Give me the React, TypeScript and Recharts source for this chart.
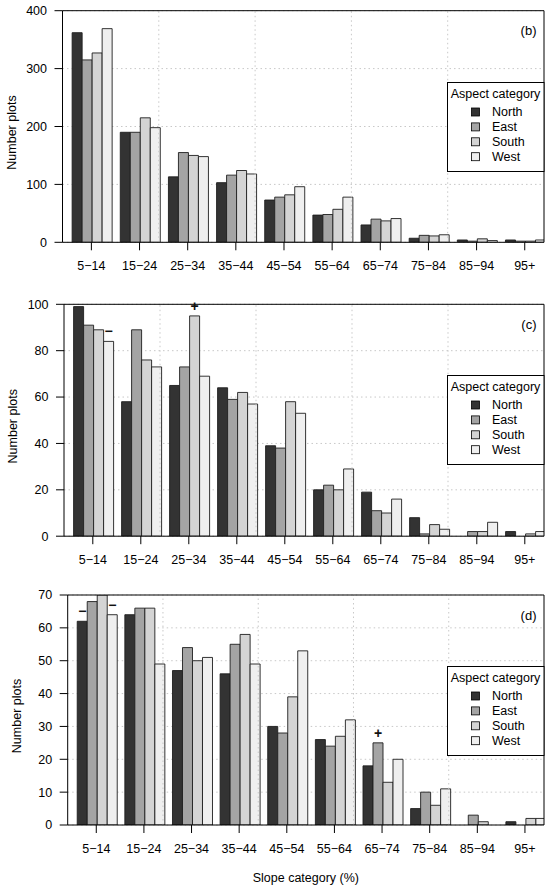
import React from 'react';
import {
  BarChart,
  Bar,
  XAxis,
  YAxis,
  CartesianGrid,
  ReferenceLine,
  Legend,
  LabelList,
  Label,
} from 'recharts';

// ---------- data ----------
const categories = [
  '5\u221214',
  '15\u221224',
  '25\u221234',
  '35\u221244',
  '45\u221254',
  '55\u221264',
  '65\u221274',
  '75\u221284',
  '85\u221294',
  '95+',
];
const aspects = ['North', 'East', 'South', 'West'];
const aspectColors = ['#333333', '#a4a4a4', '#d4d4d4', '#efefef'];

// panel (b)
const northB = [362, 190, 113, 103, 73, 47, 30, 7, 4, 4];
const eastB = [315, 190, 155, 116, 78, 48, 40, 12, 2, 2];
const southB = [327, 215, 150, 124, 82, 57, 37, 11, 6, 2];
const westB = [369, 198, 148, 118, 96, 78, 41, 13, 3, 4];

// panel (c)
const northC = [99, 58, 65, 64, 39, 20, 19, 8, 0, 2];
const eastC = [91, 89, 73, 59, 38, 22, 11, 1, 2, 0];
const southC = [89, 76, 95, 62, 58, 20, 10, 5, 2, 1];
const westC = [84, 73, 69, 57, 53, 29, 16, 3, 6, 2];

// panel (d)
const northD = [62, 64, 47, 46, 30, 26, 18, 5, 0, 1];
const eastD = [68, 66, 54, 55, 28, 24, 25, 10, 3, 0];
const southD = [70, 66, 50, 58, 39, 27, 13, 6, 1, 2];
const westD = [64, 49, 51, 49, 53, 32, 20, 11, 0, 2];

// significance marks
const M = '\u2212';
const marksCSouth = ['', '', '+', '', '', '', '', '', '', ''];
const marksCWest = [M, '', '', '', '', '', '', '', '', ''];
const marksDNorth = [M, '', '', '', '', '', '', '', '', ''];
const marksDEast = ['', '', '', '', '', '', '+', '', '', ''];
const marksDWest = [M, '', '', '', '', '', '', '', '', ''];

// tick labels
const yTicksB = [0, 100, 200, 300, 400];
const yTicksC = [0, 20, 40, 60, 80, 100];
const yTicksD = [0, 10, 20, 30, 40, 50, 60, 70];

// barplot layout (R barplot, space = c(0, 1)): each group 4 units + 1 unit gap
const GROUP = 5;
const slots = categories.map((_, i) => i * GROUP + 3);
const slotMax = categories.length * GROUP;
const gridSlots = [10, 20, 30, 40];

const FONT = '"Liberation Sans", Arial, Helvetica, sans-serif';

type Marks = { [k: string]: string[] | undefined };

function buildRows(n: number[], e: number[], s: number[], w: number[], marks: Marks) {
  return categories.map((c, i) => ({
    slot: slots[i],
    label: c,
    North: n[i],
    East: e[i],
    South: s[i],
    West: w[i],
    markNorth: marks.North ? marks.North[i] : '',
    markEast: marks.East ? marks.East[i] : '',
    markSouth: marks.South ? marks.South[i] : '',
    markWest: marks.West ? marks.West[i] : '',
  }));
}

const rowsB = buildRows(northB, eastB, southB, westB, {});
const rowsC = buildRows(northC, eastC, southC, westC, { South: marksCSouth, West: marksCWest });
const rowsD = buildRows(northD, eastD, southD, westD, {
  North: marksDNorth,
  East: marksDEast,
  West: marksDWest,
});

// ---------- helpers ----------
const MarkLabel = (props: any) => {
  const { x, y, width, value } = props;
  if (!value) return null;
  return (
    <text
      x={Number(x) + Number(width) / 2}
      y={Number(y) - 10}
      textAnchor="middle"
      dominantBaseline="central"
      fontSize={14}
      fontWeight="bold"
      fontFamily={FONT}
      fill="#111"
    >
      {value}
    </text>
  );
};

const YTitle = (props: any) => {
  const vb = props.viewBox || {};
  const cx = vb.x + vb.width - 51;
  const cy = vb.y + vb.height / 2 + 6;
  return (
    <text
      x={cx}
      y={cy}
      transform={`rotate(-90 ${cx} ${cy})`}
      textAnchor="middle"
      dominantBaseline="central"
      fontSize={12.5}
      fontFamily={FONT}
      fill="#000"
    >
      Number plots
    </text>
  );
};

const XTitle = (props: any) => {
  const vb = props.viewBox || {};
  const cx = vb.x + vb.width / 2;
  const cy = vb.y + 53.3;
  return (
    <text
      x={cx}
      y={cy}
      textAnchor="middle"
      dominantBaseline="central"
      fontSize={12.5}
      fontFamily={FONT}
      fill="#000"
    >
      Slope category (%)
    </text>
  );
};

const makeTag = (tag: string) => (props: any) => {
  const vb = props.viewBox || {};
  return (
    <text
      x={vb.x + vb.width - 7.5}
      y={vb.y + 20}
      textAnchor="end"
      dominantBaseline="central"
      fontSize={13}
      fontFamily={FONT}
      fill="#000"
    >
      {tag}
    </text>
  );
};

const LegendBox = (props: any) => {
  const payload = ((props.payload || []) as any[])
    .slice()
    .sort((a: any, b: any) => aspects.indexOf(a.value) - aspects.indexOf(b.value));
  return (
    <svg width={97} height={90} style={{ display: 'block', overflow: 'visible' }}>
      <rect x={0.5} y={0.5} width={96.5} height={89} fill="#fff" stroke="#000" strokeWidth={1} />
      <text
        x={48.5}
        y={11.8}
        textAnchor="middle"
        dominantBaseline="central"
        fontSize={12.5}
        fontFamily={FONT}
        fill="#000"
      >
        Aspect category
      </text>
      {payload.map((p: any, i: number) => (
        <g key={p.value}>
          <rect
            x={24.5}
            y={30 + i * 14.9 - 4}
            width={8}
            height={8}
            fill={p.color}
            stroke="#000"
            strokeWidth={0.8}
          />
          <text
            x={45}
            y={30 + i * 14.9}
            dominantBaseline="central"
            fontSize={12.5}
            fontFamily={FONT}
            fill="#000"
          >
            {p.value}
          </text>
        </g>
      ))}
    </svg>
  );
};

type PanelProps = {
  rows: any[];
  yTicks: number[];
  top: number;
  height: number;
  marginTop: number;
  marginBottom: number;
  yAxisWidth: number;
  tag: string;
  xTitle?: boolean;
};

const tickStyle = { fontSize: 12.5, fill: '#000', fontFamily: FONT };

function Panel({ rows, yTicks, top, height, marginTop, marginBottom, yAxisWidth, tag, xTitle }: PanelProps) {
  const yMax = yTicks[yTicks.length - 1];
  return (
    <div style={{ position: 'absolute', left: 0, top, width: 550, height }}>
      <BarChart
        width={550}
        height={height}
        data={rows}
        margin={{ top: marginTop, right: 6, bottom: marginBottom, left: 0 }}
        barGap={0}
        barCategoryGap="10%"
      >
        <CartesianGrid vertical={false} stroke="#c8c8c8" strokeDasharray="1.5 3" />
        {gridSlots.map((g) => (
          <ReferenceLine key={g} x={g} stroke="#c8c8c8" strokeDasharray="1.5 3" />
        ))}
        <XAxis
          type="number"
          dataKey="slot"
          domain={[0, slotMax]}
          ticks={slots}
          interval={0}
          allowDataOverflow
          tickFormatter={(v: number) => categories[slots.indexOf(v)] ?? ''}
          stroke="#000"
          tickSize={8}
          tickMargin={11}
          tick={tickStyle}
          height={30}
        >
          {xTitle ? <Label content={XTitle} /> : null}
        </XAxis>
        <YAxis
          type="number"
          domain={[0, yMax]}
          ticks={yTicks}
          interval={0}
          allowDataOverflow
          stroke="#000"
          tickSize={8}
          tickMargin={7.5}
          tick={tickStyle}
          width={yAxisWidth}
        >
          <Label content={YTitle} />
        </YAxis>
        {aspects.map((a, i) => (
          <Bar
            key={a}
            dataKey={a}
            name={a}
            fill={aspectColors[i]}
            stroke="#1e1e1e"
            strokeWidth={0.9}
            isAnimationActive={false}
          >
            <LabelList dataKey={'mark' + a} content={MarkLabel} />
          </Bar>
        ))}
        <ReferenceLine y={yMax} stroke="#000" strokeWidth={1} label={makeTag(tag)} />
        <ReferenceLine x={slotMax} stroke="#000" strokeWidth={1} />
        <Legend
          layout="vertical"
          align="center"
          verticalAlign="middle"
          wrapperStyle={{ left: 447, top: marginTop + 71, width: 97, height: 90 }}
          content={LegendBox}
        />
      </BarChart>
    </div>
  );
}

export default function App() {
  return (
    <div
      style={{
        position: 'absolute',
        left: 0,
        top: 0,
        width: 550,
        height: 890,
        background: '#fff',
        fontFamily: FONT,
      }}
    >
      <Panel
        rows={rowsB}
        yTicks={yTicksB}
        top={0}
        height={290}
        marginTop={10.7}
        marginBottom={17.7}
        yAxisWidth={62.5}
        tag="(b)"
      />
      <Panel
        rows={rowsC}
        yTicks={yTicksC}
        top={290}
        height={280}
        marginTop={14.3}
        marginBottom={3.8}
        yAxisWidth={64}
        tag="(c)"
      />
      <Panel
        rows={rowsD}
        yTicks={yTicksD}
        top={570}
        height={320}
        marginTop={25}
        marginBottom={35}
        yAxisWidth={67.7}
        tag="(d)"
        xTitle
      />
    </div>
  );
}
